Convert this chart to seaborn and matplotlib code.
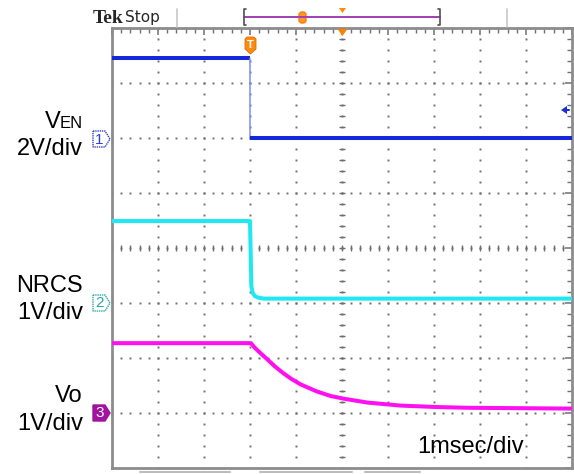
import numpy as np
import pandas as pd
import matplotlib
matplotlib.use("Agg")
import matplotlib.pyplot as plt
import matplotlib.transforms as mtransforms
from matplotlib.lines import Line2D
from matplotlib.patches import Polygon, FancyBboxPatch
import seaborn as sns

# ---- captured waveforms (time in ms across a 10-division screen, 1 ms/div) ----
ven_t = [0.0, 3.0, 3.0, 10.0]
ven_v = [2.9, 2.9, 0.0, 0.0]

nrcs_t = [0.0, 3.0, 3.03, 3.06, 3.1, 3.17, 3.3, 10.0]
nrcs_v = [1.49, 1.49, 0.30, 0.18, 0.13, 0.10, 0.08, 0.08]

vo_t = [0.0, 3.02, 3.1, 3.2, 3.37, 3.55, 3.73, 3.9, 4.10, 4.46, 4.75, 5.04,
        5.55, 6.27, 7.0, 7.73, 10.0]
vo_v = [1.27, 1.27, 1.19, 1.11, 0.98, 0.84, 0.72, 0.62, 0.52, 0.39, 0.31, 0.26,
        0.19, 0.135, 0.11, 0.095, 0.08]

# channel settings: volts per division and ground-marker offset (divisions from centre)
ch_names = ["VEN", "NRCS", "Vo"]
ch_scale = [2.0, 1.0, 1.0]
ch_offset = [2.0, -1.0, -3.0]
ch_colors = ["#1428d8", "#1ee8f0", "#ff10f0"]

W, H = 574, 474
sns.set_style("white")
plt.rcParams["font.family"] = ["Liberation Sans", "DejaVu Sans"]

fig = plt.figure(figsize=(W / 100, H / 100), dpi=100)
ax = fig.add_axes([112 / W, (H - 468) / H, 460 / W, 440 / H])
ax.set_xlim(0, 10)
ax.set_ylim(-4, 4)

# pixel (from top-left) -> figure transform for the screen annotations
pxT = mtransforms.Affine2D().scale(1 / W, -1 / H).translate(0, 1) + fig.transFigure


def to_div(v, i):
    return [ch_offset[i] + x / ch_scale[i] for x in v]


# ---- graticule ----
grid_col = "#6e6e6e"
fine = np.arange(0, 10.001, 0.2)
fine_y = np.arange(-4, 4.001, 0.2)
for gx in range(1, 10):
    ax.plot([gx] * len(fine_y), fine_y, ls="none", marker="s", ms=1.4,
            color=grid_col, mew=0, zorder=1)
for gy in range(-3, 4):
    ax.plot(fine, [gy] * len(fine), ls="none", marker="s", ms=1.4,
            color=grid_col, mew=0, zorder=1)
# centre cross ticks
ax.plot([5] * len(fine_y), fine_y, ls="none", marker="_", ms=5, mew=1.0,
        color=grid_col, zorder=1)
ax.plot(fine, [0] * len(fine), ls="none", marker="|", ms=5, mew=1.0,
        color=grid_col, zorder=1)

ax.set_xticks(np.arange(0, 11, 1))
ax.set_yticks(np.arange(-4, 5, 1))
ax.set_xticks(fine, minor=True)
ax.set_yticks(fine_y, minor=True)
ax.tick_params(which="both", direction="in", top=True, right=True,
               labelbottom=False, labelleft=False, color="#707070")
ax.tick_params(which="major", length=5, width=1.1)
ax.tick_params(which="minor", length=3.5, width=1.0)
for s in ax.spines.values():
    s.set_color("#8c8c8c")
    s.set_linewidth(2.0)

# ---- traces ----
lw = 2.9
line_kw = dict(estimator=None, sort=False, ax=ax, zorder=4,
               solid_joinstyle="round", solid_capstyle="butt")
ven_d = to_div(ven_v, 0)
sns.lineplot(x=ven_t[:2], y=ven_d[:2], color=ch_colors[0], lw=lw, **line_kw)
sns.lineplot(x=ven_t[1:3], y=ven_d[1:3], color="#7f8ff0", lw=1.1, **line_kw)
sns.lineplot(x=ven_t[2:], y=ven_d[2:], color=ch_colors[0], lw=lw, **line_kw)

df = pd.DataFrame({
    "t": nrcs_t + vo_t,
    "div": to_div(nrcs_v, 1) + to_div(vo_v, 2),
    "ch": ["NRCS"] * len(nrcs_t) + ["Vo"] * len(vo_t),
})
sns.lineplot(data=df, x="t", y="div", hue="ch",
             palette={"NRCS": ch_colors[1], "Vo": ch_colors[2]},
             lw=lw, legend=False, **line_kw)
ax.set_xlabel("")
ax.set_ylabel("")

# ---- channel labels ----
lab_kw = dict(transform=pxT, ha="right", va="baseline", color="black")
fig.text(83, 128, "EN", fontsize=12, **lab_kw)
fig.text(61, 128, "V", fontsize=17, **lab_kw)
fig.text(83, 155, "2V/div", fontsize=17, **lab_kw)
fig.text(83, 292, "NRCS", fontsize=17, **lab_kw)
fig.text(83, 319, "1V/div", fontsize=17, **lab_kw)
fig.text(83, 402, "Vo", fontsize=17, **lab_kw)
fig.text(83, 430, "1V/div", fontsize=17, **lab_kw)
fig.text(417, 453, "1msec/div", fontsize=17, transform=pxT, ha="left",
         va="baseline", color="black")

# ground markers
markers = [(139, "1", "white", "#3040d0", "#3040d0"),
           (303, "2", "white", "#2aa6a6", "#2aa6a6"),
           (413, "3", "#a012a0", "#a012a0", "white")]
for yc, num, face, edge, tcol in markers:
    poly = Polygon([(93, yc - 8), (105, yc - 8), (110, yc), (105, yc + 8),
                    (93, yc + 8)], closed=True, transform=pxT, fc=face,
                   ec=edge, lw=1.0, ls=(0, (1, 0.6)) if face == "white" else "-")
    fig.add_artist(poly)
    fig.text(99.5, yc + 0.5, num, transform=pxT, ha="center", va="center",
             fontsize=11, color=tcol)

# ---- header ----
fig.text(93, 23, "Tek", transform=pxT, fontsize=14, fontweight="bold",
         family="Liberation Serif", va="baseline", ha="left")
fig.text(125, 22, "Stop", transform=pxT, fontsize=11, family="DejaVu Sans",
         va="baseline", ha="left")
for xv in (177, 507):
    fig.add_artist(Line2D([xv, xv], [9, 27], transform=pxT, color="#c8c8c8", lw=1.2))
fig.add_artist(Line2D([244, 440], [17, 17], transform=pxT, color="#a040b0", lw=1.4))
for xb, d in ((244, 1), (440, -1)):
    fig.add_artist(Line2D([xb + 2 * d, xb, xb, xb + 2 * d], [9, 9, 25, 25],
                          transform=pxT, color="#505050", lw=1.2))
fig.add_artist(FancyBboxPatch((299, 12), 7, 11, boxstyle="round,pad=0,rounding_size=3",
                              transform=pxT, fc="#ff9a30", ec="#ff7a00", lw=1.0))
fig.add_artist(Polygon([(339, 8), (346, 8), (342.5, 13)], transform=pxT,
                       fc="#ff8a10", ec="none"))
# horizontal position marker
fig.add_artist(Polygon([(337.5, 29), (347.5, 29), (342.5, 36)], transform=pxT,
                       fc="#ff8000", ec="none", zorder=6))
# trigger point marker
fig.add_artist(Polygon([(245, 39), (245, 49), (250.5, 54), (256, 49), (256, 39),
                        (254, 37), (247, 37)], transform=pxT, fc="#ff8a10",
                       ec="#e06a00", lw=0.6, zorder=6))
fig.text(250.5, 45, "T", transform=pxT, ha="center", va="center", fontsize=8,
         color="white", fontweight="bold", zorder=7)
# channel 1 trigger level
fig.add_artist(Polygon([(561, 110), (567, 106), (567, 114)], transform=pxT,
                       fc="#1a2fd6", ec="none", zorder=6))
fig.add_artist(Line2D([566, 569], [110, 110], transform=pxT, color="#1a2fd6", lw=1.5))

# bottom readout remnants
for x0, x1 in ((140, 230), (260, 352), (365, 420)):
    fig.add_artist(Line2D([x0, x1], [472, 472], transform=pxT, color="#bdbdbd", lw=1.5))

fig.savefig("out.png", dpi=100)
